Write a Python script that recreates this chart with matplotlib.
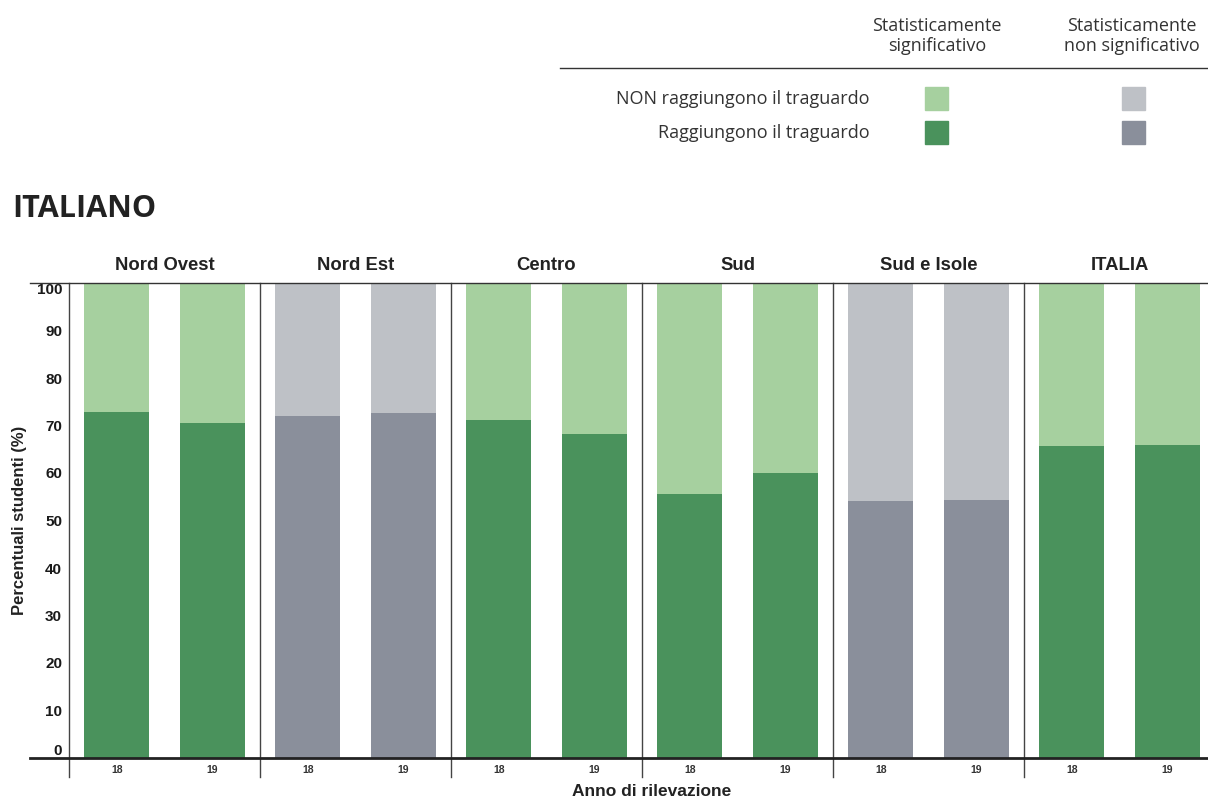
from matplotlib import pyplot as plt

regions = ["Nord Ovest", "Nord Est", "Centro", "Sud", "Sud e Isole", "ITALIA"]
years = ["18", "19"]
reach_18 = [72.8, 72.0, 71.2, 55.6, 54.2, 65.7]
reach_19 = [70.5, 72.6, 68.3, 60.1, 54.4, 65.9]
significant = [True, False, True, True, False, True]
yticks = [0, 10, 20, 30, 40, 50, 60, 70, 80, 90, 100]

green_dark = "#4a925c"
green_light = "#a6d09f"
gray_dark = "#8a8f9b"
gray_light = "#bec1c6"

plt.rcParams['font.family'] = ['Liberation Sans', 'DejaVu Sans']

fig = plt.figure(figsize=(12.08, 8), dpi=100)
ax = fig.add_axes([69 / 1208, 42 / 800, 1139 / 1208, 475 / 800])

for i, name in enumerate(regions):
    dark = green_dark if significant[i] else gray_dark
    light = green_light if significant[i] else gray_light
    for j, val in enumerate([reach_18[i], reach_19[i]]):
        x = i + 0.25 + 0.5 * j
        ax.bar(x, val, width=0.34, color=dark, linewidth=0)
        ax.bar(x, 100 - val, bottom=val, width=0.34, color=light, linewidth=0)
    ax.text(i + 0.5, 101.9, name, ha='center', va='bottom', fontsize=13.3, fontweight='bold', color='#222222')

# panel separators
for i in range(6):
    ax.axvline(i, ymin=-0.04, ymax=1, color='#444444', linewidth=1, clip_on=False)

ax.axhline(100, xmin=-0.034, xmax=1, color='#333333', linewidth=1, clip_on=False)
ax.axhline(0, xmin=-0.034, xmax=1, color='#222222', linewidth=2, clip_on=False)

ax.set_xlim(0, 1139 / 191)
ax.set_ylim(0, 100)
for s in ax.spines.values():
    s.set_visible(False)

ax.set_yticks(yticks)
ax.set_yticklabels([str(v) for v in yticks], fontsize=11, fontweight='bold', color='#1a1a1a')
labs = ax.get_yticklabels()
labs[0].set_va('bottom')
labs[-1].set_va('top')
ax.tick_params(axis='y', length=0, pad=5)

xpos = [i + 0.25 + 0.5 * j for i in range(6) for j in range(2)]
ax.set_xticks(xpos)
ax.set_xticklabels(years * 6, fontsize=7.5, fontweight='bold', color='#333333')
ax.tick_params(axis='x', length=0, pad=5)

ax.set_ylabel("Percentuali studenti (%)", fontsize=12, fontweight='bold', color='#222222')
ax.yaxis.set_label_coords(-42 / 1139, 0.5)
ax.set_xlabel("Anno di rilevazione", fontsize=12.5, fontweight='bold', color='#222222')
ax.xaxis.set_label_coords(583 / 1139, -0.055)

fig.text(12 / 1208, 1 - 209 / 800, "ITALIANO", fontsize=22, fontweight='bold', color='#222222', va='center', ha='left',
         family=['Open Sans', 'DejaVu Sans'])

# legend block
lf = ['Open Sans', 'DejaVu Sans']
fig.text(937 / 1208, 1 - 36 / 800, "Statisticamente\nsignificativo", ha='center', va='center', fontsize=13,
         color='#333333', family=lf, linespacing=1.2)
fig.text(1132 / 1208, 1 - 36 / 800, "Statisticamente\nnon significativo", ha='center', va='center', fontsize=13,
         color='#333333', family=lf, linespacing=1.2)
fig.add_artist(plt.Line2D([560 / 1208, 1], [1 - 68 / 800, 1 - 68 / 800], color='#333333', linewidth=1))
fig.text(870 / 1208, 1 - 99 / 800, "NON raggiungono il traguardo", ha='right', va='center', fontsize=13,
         color='#333333', family=lf)
fig.text(870 / 1208, 1 - 133 / 800, "Raggiungono il traguardo", ha='right', va='center', fontsize=13,
         color='#333333', family=lf)
for x0, cols in [(925, (green_light, green_dark)), (1122, (gray_light, gray_dark))]:
    for y0, c in zip([87, 121], cols):
        fig.add_artist(plt.Rectangle((x0 / 1208, 1 - (y0 + 23) / 800), 23 / 1208, 23 / 800, color=c,
                                     transform=fig.transFigure))

plt.savefig("out.png", dpi=100)
